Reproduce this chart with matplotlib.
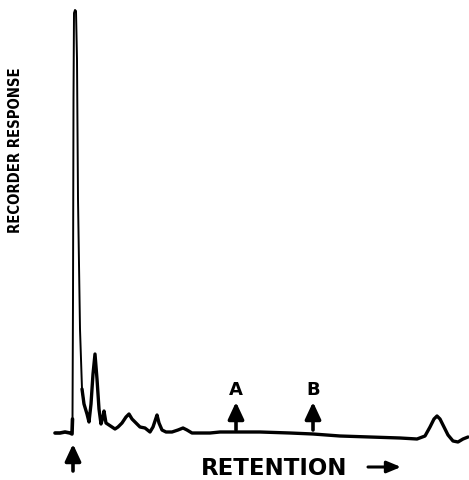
import matplotlib
matplotlib.use("Agg")
import matplotlib.pyplot as plt
import numpy as np
from matplotlib import font_manager

# Chromatogram trace: retention (horizontal units) and recorder response (vertical units)
retention = [55, 60, 65, 70, 72, 72.5, 73, 73.5, 74, 75, 76, 77, 78, 80, 82, 84, 87, 89,
             91, 93, 95, 97, 99, 101, 103, 104, 106, 109, 112, 115, 118, 122, 126, 129,
             132, 136, 140, 145, 150, 153, 156, 157, 159, 162, 166, 172, 178, 183, 187,
             192, 200, 210, 220, 237, 260, 290, 313, 340, 370, 400, 417, 425, 430, 434,
             437, 440, 444, 448, 453, 458, 463, 468]
response = [47, 47, 48, 47, 46, 61, 181, 381, 467, 470, 469, 421, 281, 151, 91, 76, 66, 58,
            76, 106, 126, 101, 71, 56, 63, 69, 57, 55, 53, 51, 53, 57, 63, 66,
            61, 57, 53, 52, 48, 53, 62, 65, 57, 50, 48, 48, 50, 52, 50,
            47, 47, 47, 48, 48, 48, 47, 46, 44, 43, 42, 41, 44, 53, 61,
            64, 61, 53, 45, 39, 38, 41, 43]

marker_labels = ["A", "B"]
marker_retention = [236, 313]
injection_retention = 73

fig = plt.figure(figsize=(4.69, 4.81), dpi=100)
ax = fig.add_axes([0, 0, 1, 1])
ax.set_xlim(0, 469)
ax.set_ylim(0, 481)
ax.axis("off")

x = np.array(retention, dtype=float)
y = np.array(response, dtype=float)
pre = x <= 72.5
spike = (x >= 72) & (x <= 84)
post = x >= 82
ax.plot(x[pre], y[pre], color="black", lw=2.6, solid_joinstyle="round", solid_capstyle="round")
ax.plot(x[post], y[post], color="black", lw=2.4, solid_joinstyle="round", solid_capstyle="round")
ax.plot(x[spike], y[spike], color="black", lw=1.4, solid_joinstyle="round")

def up_arrow(xpos, y0, y1):
    ax.annotate("", xy=(xpos, y1), xytext=(xpos, y0),
                arrowprops=dict(arrowstyle="-|>,head_length=0.6,head_width=0.28",
                                lw=2.6, color="black", mutation_scale=17,
                                shrinkA=0, shrinkB=0))

up_arrow(injection_retention, 9, 36)
for lab, xr in zip(marker_labels, marker_retention):
    up_arrow(xr, 50, 78)
    ax.text(xr, 91, lab, ha="center", va="center", fontsize=13,
            fontweight="bold", family="DejaVu Sans")

ax.text(201, 12, "RETENTION", ha="left", va="center", fontsize=16.5,
        fontweight="bold", family="DejaVu Sans")
ax.annotate("", xy=(401, 13), xytext=(368, 13),
            arrowprops=dict(arrowstyle="-|>,head_length=0.6,head_width=0.25",
                            lw=2.2, color="black", mutation_scale=14,
                            shrinkA=0, shrinkB=0))

t = ax.text(16, 331, "RECORDER RESPONSE", ha="center", va="center", rotation=90,
            fontsize=12, fontweight="bold", family="DejaVu Sans", fontstretch="condensed")
fig.canvas.draw()
bb = t.get_window_extent()
# scale font so the vertical label spans the same length as the original
target = 165.0
t.set_fontsize(12 * target / bb.height)

fig.savefig("out.png", dpi=100)
